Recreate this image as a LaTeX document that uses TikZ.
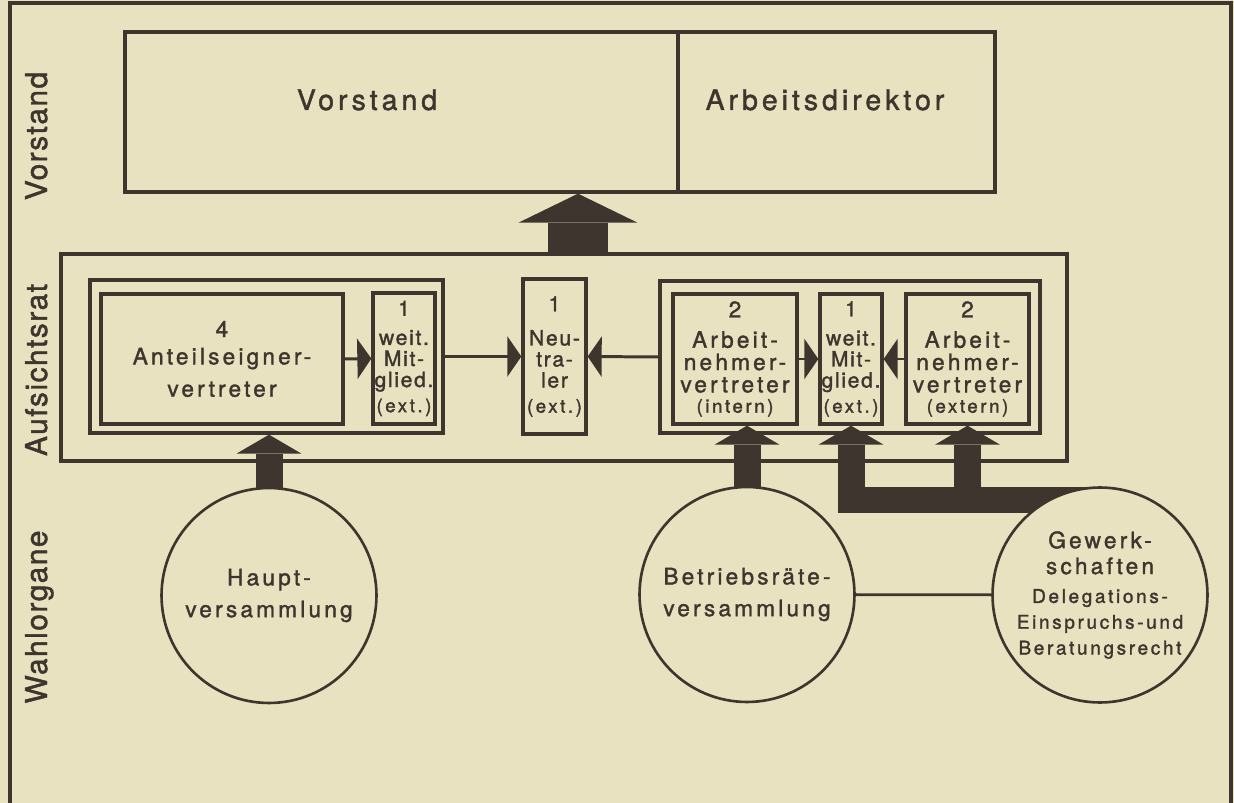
\documentclass[tikz,border=0pt]{standalone}
\usepackage{fontspec}
\setmainfont{TeX Gyre Heros}
\newfontfamily\wideface[LetterSpace=14,FakeBold=1.5]{TeX Gyre Heros}
\newfontfamily\narrowface[LetterSpace=8,FakeBold=1.5]{TeX Gyre Heros}
\newfontfamily\sideface[LetterSpace=5,FakeBold=1.5]{TeX Gyre Heros}
\newfontfamily\headface[LetterSpace=14,FakeBold=1.5]{TeX Gyre Heros}
\newcommand\smalltext[1]{{\wideface\fontsize{10.6}{11}\selectfont #1}}
\newcommand\rightsfont{\fontsize{10.8}{14}\selectfont}
\usetikzlibrary{arrows.meta}
\definecolor{paper}{RGB}{232,226,192}
\definecolor{ink}{RGB}{62,54,46}
\pgfdeclarelayer{paperlayer}
\pgfdeclarelayer{arrowlayer}
\pgfsetlayers{paperlayer,arrowlayer,main}

\begin{document}
\begin{tikzpicture}[x=0.02cm,y=-0.02cm]
\tikzset{
  boxnode/.style={rectangle,draw=ink,line width=1.9pt,inner sep=0pt,align=center,text=ink},
  widebox/.style={boxnode,font=\wideface\fontsize{12.9}{12.7}\selectfont},
  narrowbox/.style={boxnode,font=\narrowface\fontsize{12}{12}\selectfont},
  roundnode/.style={circle,draw=ink,line width=1.5pt,fill=paper,minimum size=4.3cm,inner sep=0pt,align=center,text=ink,font=\wideface\fontsize{12.9}{18.1}\selectfont},
  headlabel/.style={text=ink,font=\headface\fontsize{16.2}{19}\selectfont,anchor=base},
  sidelabel/.style={text=ink,font=\sideface\fontsize{17}{20}\selectfont,rotate=90,anchor=base},
  thinarrow/.style={draw=ink,line width=1.7pt,-{Triangle[length=0.28cm,width=0.8cm]}},
  fatarrow/.style={draw=ink,line width=0.54cm,-{Triangle[length=0.38cm,width=1.3cm,line width=0pt]}},
  bigarrow/.style={draw=ink,line width=1.2cm,-{Triangle[length=0.58cm,width=2.38cm,line width=0pt]}},
  plainline/.style={draw=ink,line width=1.6pt}
}
\useasboundingbox (0,0) rectangle (1234,803);
\begin{pgfonlayer}{paperlayer}
\fill[paper] (0,0) rectangle (1234,803);
\end{pgfonlayer}
\draw[plainline,line width=1.9pt] (10,803) -- (10,3) -- (1231,3) -- (1231,803);
% side labels
\node[sidelabel] (t_vorstandside) at (47,136) {Vorstand};
\node[sidelabel] (t_aufsicht) at (47,370) {Aufsichtsrat};
\node[sidelabel] (t_wahl) at (47,617) {Wahlorgane};
% Vorstand
\node[boxnode,minimum width=11.06cm,minimum height=3.2cm] (n_vorstand) at (401.5,112) {};
\node[boxnode,minimum width=6.34cm,minimum height=3.2cm] (n_arbdir) at (836.5,112) {};
\node[headlabel] (t_vorstand) at (367,110) {Vorstand};
\node[headlabel] (t_arbdir) at (825,110) {Arbeitsdirektor};
% Aufsichtsrat
\node[boxnode,minimum width=20.12cm,minimum height=4.14cm] (n_aufsicht) at (564,357.5) {};
\node[boxnode,minimum width=7.06cm,minimum height=3.06cm] (n_eignergrp) at (266.5,356.5) {};
\node[widebox,minimum width=4.84cm,minimum height=2.6cm] (n_eigner) at (222,359) {4\\[0.1cm]Anteilseigner-\\[0.2cm]vertreter};
\node[narrowbox,text width=1.24cm,minimum height=2.62cm] (n_weitA) at (404,358.5) {1\\[0.16cm]weit.\\Mit-\\glied.\\[0.08cm]\smalltext{(ext.)}};
\node[narrowbox,text width=1.26cm,minimum height=3.1cm] (n_neutral) at (554.5,356.5) {1\\[0.26cm]Neu-\\tra-\\ler\\[0.08cm]\smalltext{(ext.)}};
\node[boxnode,minimum width=7.6cm,minimum height=3.04cm] (n_arbgrp) at (850,357) {};
\node[widebox,minimum width=2.48cm,minimum height=2.6cm] (n_intern) at (735,359) {2\\[0.16cm]Arbeit-\\nehmer-\\vertreter\\[-0.04cm]\smalltext{(intern)}};
\node[narrowbox,text width=1.24cm,minimum height=2.6cm] (n_weitB) at (851,359) {1\\[0.16cm]weit.\\Mit-\\glied.\\[0.08cm]\smalltext{(ext.)}};
\node[widebox,minimum width=2.46cm,minimum height=2.6cm] (n_extern) at (967.5,359) {2\\[0.16cm]Arbeit-\\nehmer-\\vertreter\\[-0.04cm]\smalltext{(extern)}};
% Wahlorgane
\node[roundnode] (n_haupt) at (269,595.5) {Haupt-\\versammlung};
\node[roundnode] (n_betr) at (747,594.5) {Betriebsräte-\\versammlung};
\node[roundnode,font=\wideface\fontsize{12.9}{14.7}\selectfont] (n_gew) at (1100,595) {Gewerk-\\schaften\\[0.06cm]\rightsfont Delegations-\\\rightsfont Einspruchs-und\\\rightsfont Beratungsrecht};
\coordinate (c_up) at (578,0);
\coordinate (c_gewbar) at (1100,500);
\draw[thinarrow] (n_eigner.east) -- (n_weitA.west);
\draw[thinarrow] (n_eignergrp.east) -- (n_neutral.west);
\draw[thinarrow] (n_arbgrp.west) -- (n_neutral.east);
\draw[thinarrow] (n_intern.east) -- (n_weitB.west);
\draw[thinarrow] (n_extern.west) -- (n_weitB.east);
\draw[plainline] (n_betr) -- (n_gew);
\begin{pgfonlayer}{arrowlayer}
\draw[bigarrow] (c_up |- n_aufsicht.north) -- (c_up |- n_vorstand.south);
\draw[fatarrow] (n_haupt.center) -- (n_haupt.center |- n_eignergrp.south);
\draw[fatarrow] (n_betr.center) -- (n_betr.center |- n_intern.south);
\draw[fatarrow] (c_gewbar) -- (c_gewbar -| n_weitB.south) -- (n_weitB.south);
\draw[fatarrow] (c_gewbar -| n_extern.south) -- (n_extern.south);
\end{pgfonlayer}
\end{tikzpicture}
\end{document}
